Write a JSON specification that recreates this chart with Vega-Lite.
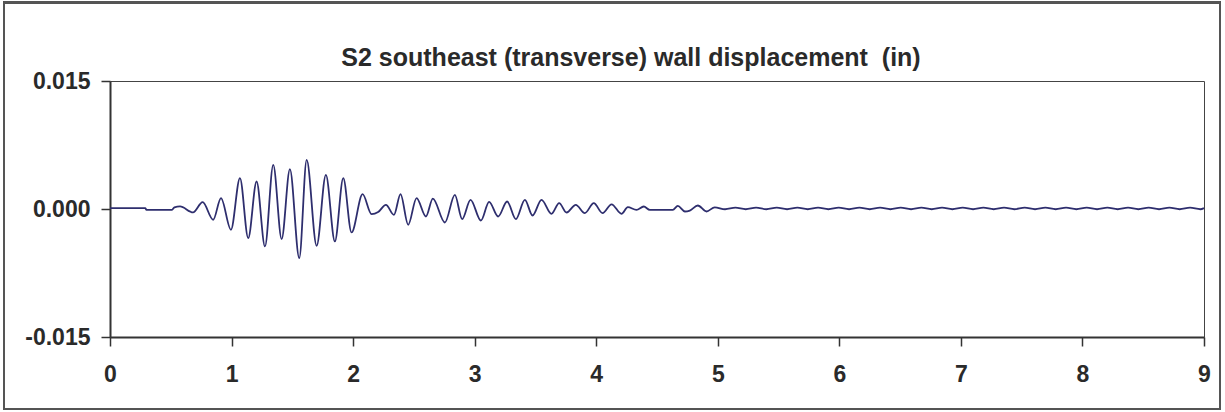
{
  "$schema": "https://vega.github.io/schema/vega-lite/v6.json",
  "autosize": {"type": "none"},
  "width": 1094,
  "height": 256,
  "padding": {"left": 110, "top": 81, "right": 21, "bottom": 75},
  "background": "white",
  "config": {
    "font": "Liberation Sans",
    "view": {"stroke": "#444444", "strokeWidth": 1},
    "axis": {"grid": false, "domainColor": "#333333", "domainWidth": 2, "tickColor": "#333333", "tickWidth": 1.5, "tickSize": 9, "labelFont": "Liberation Sans", "labelFontWeight": "bold", "labelFontSize": 23, "labelColor": "#2a2a2a", "title": null}
  },
  "title": {"text": "S2 southeast (transverse) wall displacement \u00a0(in)", "font": "Liberation Sans", "fontSize": 25, "fontWeight": "bold", "color": "#2a2a2a", "offset": -69, "frame": "group", "dx": -26},
  "data": {"values": [
    {"t": 0, "d": 0.0001}, {"t": 0.29, "d": 0.0001}, {"t": 0.30, "d": -0.0001}, {"t": 0.51, "d": -0.0001}, {"t": 0.53, "d": 0.0002},
    {"t": 0.576, "d": 0.0003}, {"t": 0.683, "d": -0.0004}, {"t": 0.762, "d": 0.0008}, {"t": 0.849, "d": -0.00126},
    {"t": 0.913, "d": 0.00128}, {"t": 0.995, "d": -0.00243}, {"t": 1.069, "d": 0.00362}, {"t": 1.137, "d": -0.00341},
    {"t": 1.206, "d": 0.00322}, {"t": 1.275, "d": -0.00439}, {"t": 1.343, "d": 0.00517}, {"t": 1.412, "d": -0.00352},
    {"t": 1.480, "d": 0.00467}, {"t": 1.557, "d": -0.00575}, {"t": 1.618, "d": 0.00576}, {"t": 1.700, "d": -0.00431},
    {"t": 1.776, "d": 0.0040}, {"t": 1.850, "d": -0.0038}, {"t": 1.919, "d": 0.00362}, {"t": 1.987, "d": -0.00275},
    {"t": 2.078, "d": 0.00174}, {"t": 2.152, "d": -0.0006}, {"t": 2.206, "d": -0.00036}, {"t": 2.270, "d": 0.00049},
    {"t": 2.336, "d": -0.00068}, {"t": 2.390, "d": 0.00174}, {"t": 2.453, "d": -0.00185}, {"t": 2.522, "d": 0.00128},
    {"t": 2.599, "d": -0.00088}, {"t": 2.656, "d": 0.00122}, {"t": 2.755, "d": -0.00158}, {"t": 2.837, "d": 0.00166},
    {"t": 2.897, "d": -0.00118}, {"t": 2.966, "d": 0.00108}, {"t": 3.051, "d": -0.00135}, {"t": 3.119, "d": 0.00084},
    {"t": 3.193, "d": -0.00088}, {"t": 3.267, "d": 0.00088}, {"t": 3.339, "d": -0.00118}, {"t": 3.413, "d": 0.00108},
    {"t": 3.476, "d": -0.00076}, {"t": 3.550, "d": 0.00108}, {"t": 3.632, "d": -0.00056}, {"t": 3.695, "d": 0.00069},
    {"t": 3.756, "d": -0.00041}, {"t": 3.832, "d": 0.00049}, {"t": 3.906, "d": -0.00048}, {"t": 3.980, "d": 0.00069},
    {"t": 4.052, "d": -0.00048}, {"t": 4.126, "d": 0.00055}, {"t": 4.208, "d": -0.00056}, {"t": 4.260, "d": 0.00022},
    {"t": 4.331, "d": -0.0001}, {"t": 4.391, "d": 0.00029}, {"t": 4.441, "d": -0.0001}, {"t": 4.630, "d": -0.0001},
    {"t": 4.671, "d": 0.00037}, {"t": 4.729, "d": -0.00029}, {"t": 4.770, "d": -0.00018}, {"t": 4.836, "d": 0.00041},
    {"t": 4.907, "d": -0.00029}, {"t": 4.975, "d": 0.0002},
    {"t": 5.06, "d": -0.00003}, {"t": 5.145, "d": 0.00015}, {"t": 5.23, "d": -0.00003}, {"t": 5.315, "d": 0.00015},
    {"t": 5.40, "d": -0.00003}, {"t": 5.485, "d": 0.00015}, {"t": 5.57, "d": -0.00003}, {"t": 5.655, "d": 0.00015},
    {"t": 5.74, "d": -0.00003}, {"t": 5.825, "d": 0.00015}, {"t": 5.91, "d": -0.00003}, {"t": 5.995, "d": 0.00015},
    {"t": 6.08, "d": -0.00003}, {"t": 6.165, "d": 0.00015}, {"t": 6.25, "d": -0.00003}, {"t": 6.335, "d": 0.00015},
    {"t": 6.42, "d": -0.00003}, {"t": 6.505, "d": 0.00015}, {"t": 6.59, "d": -0.00003}, {"t": 6.675, "d": 0.00015},
    {"t": 6.76, "d": -0.00003}, {"t": 6.845, "d": 0.00015}, {"t": 6.93, "d": -0.00003}, {"t": 7.015, "d": 0.00015},
    {"t": 7.10, "d": -0.00003}, {"t": 7.185, "d": 0.00015}, {"t": 7.27, "d": -0.00003}, {"t": 7.355, "d": 0.00015},
    {"t": 7.44, "d": -0.00003}, {"t": 7.525, "d": 0.00015}, {"t": 7.61, "d": -0.00003}, {"t": 7.695, "d": 0.00015},
    {"t": 7.78, "d": -0.00003}, {"t": 7.865, "d": 0.00015}, {"t": 7.95, "d": -0.00003}, {"t": 8.035, "d": 0.00015},
    {"t": 8.12, "d": -0.00003}, {"t": 8.205, "d": 0.00015}, {"t": 8.29, "d": -0.00003}, {"t": 8.375, "d": 0.00015},
    {"t": 8.46, "d": -0.00003}, {"t": 8.545, "d": 0.00015}, {"t": 8.63, "d": -0.00003}, {"t": 8.715, "d": 0.00015},
    {"t": 8.80, "d": -0.00003}, {"t": 8.885, "d": 0.00015}, {"t": 8.97, "d": -0.00003}, {"t": 9.0, "d": 0.0001}
  ]},
  "layer": [
    {
      "mark": {"type": "rect", "fill": null, "stroke": "#555555", "strokeWidth": 1.5},
      "encoding": {
        "x": {"datum": -0.87, "type": "quantitative"},
        "x2": {"datum": 9.13},
        "y": {"datum": 0.0242, "type": "quantitative"},
        "y2": {"datum": -0.0234}
      }
    },
    {
      "mark": {"type": "line", "color": "#2e2e6e", "strokeWidth": 1.8, "interpolate": "monotone"},
      "encoding": {
        "x": {"field": "t", "type": "quantitative", "scale": {"domain": [0, 9], "nice": false}, "axis": {"values": [0, 1, 2, 3, 4, 5, 6, 7, 8, 9], "format": "d", "labelPadding": 17, "labelFlush": false}},
        "y": {"field": "d", "type": "quantitative", "scale": {"domain": [-0.015, 0.015], "nice": false, "zero": false}, "axis": {"values": [-0.015, 0, 0.015], "format": ".3f", "labelExpr": "replace(datum.label, '−', '-')", "labelPadding": 11}}
      }
    }
  ]
}
